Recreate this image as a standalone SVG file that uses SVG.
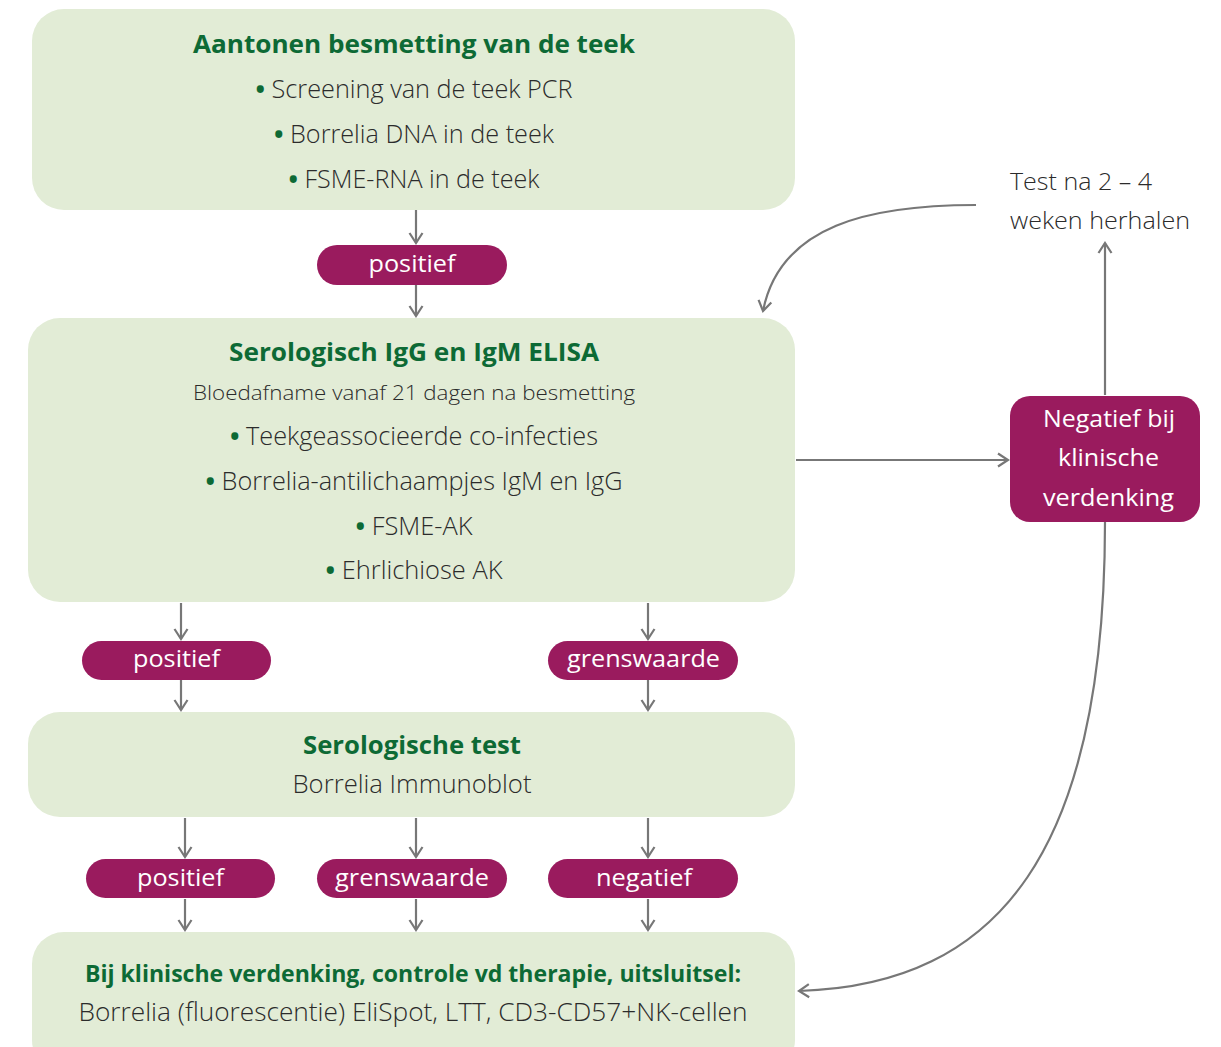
<svg xmlns="http://www.w3.org/2000/svg" width="1221" height="1047" viewBox="0 0 1221 1047">
<style>
.box{fill:#e2ecd6}
.pill{fill:#9a1b5e}
.t{font-family:"Open Sans","Liberation Sans",sans-serif;font-weight:300;fill:#2b2b2b;text-anchor:middle}
.h{font-family:"Open Sans","Liberation Sans",sans-serif;font-weight:700;fill:#0d6a35;text-anchor:middle}
.w{font-family:"Open Sans","Liberation Sans",sans-serif;font-weight:400;fill:#ffffff;text-anchor:middle}
.b{fill:#0d6a35;font-weight:700}
.c{fill:none;stroke:#777;stroke-width:2.2}
</style>
<defs>
<marker id="ah" viewBox="0 0 14 16" refX="12" refY="8" markerWidth="14" markerHeight="16" markerUnits="userSpaceOnUse" orient="auto">
<path d="M2 1.5 L12 8 L2 14.5" fill="none" stroke="#777" stroke-width="2.2"/>
</marker>
</defs>
<g id="connectors">
<path class="c" d="M416 210 V243" marker-end="url(#ah)"/>
<path class="c" d="M416 285 V316" marker-end="url(#ah)"/>
<path class="c" d="M181 603 V639" marker-end="url(#ah)"/>
<path class="c" d="M181 680 V710" marker-end="url(#ah)"/>
<path class="c" d="M648 603 V639" marker-end="url(#ah)"/>
<path class="c" d="M648 680 V710" marker-end="url(#ah)"/>
<path class="c" d="M185 818 V857" marker-end="url(#ah)"/>
<path class="c" d="M416 818 V857" marker-end="url(#ah)"/>
<path class="c" d="M648 818 V857" marker-end="url(#ah)"/>
<path class="c" d="M185 899 V930" marker-end="url(#ah)"/>
<path class="c" d="M416 899 V930" marker-end="url(#ah)"/>
<path class="c" d="M648 899 V930" marker-end="url(#ah)"/>
<path class="c" d="M796 460 H1008" marker-end="url(#ah)"/>
<path class="c" d="M1105 395 V243" marker-end="url(#ah)"/>
<path class="c" d="M976 205 C870 205 780 225 763 311" marker-end="url(#ah)"/>
<path class="c" d="M1105 522 C1105 850 1000 985 799 991" marker-end="url(#ah)"/>
</g>
<g id="node-teek">
<rect class="box" x="32" y="9" width="763" height="201" rx="32"/>
<text class="h" x="414" y="53" font-size="25" textLength="442" lengthAdjust="spacingAndGlyphs">Aantonen besmetting van de teek</text>
<text class="t" x="414" y="98" font-size="25" textLength="317" lengthAdjust="spacingAndGlyphs"><tspan class="b">•</tspan> Screening van de teek PCR</text>
<text class="t" x="414" y="143" font-size="25" textLength="280" lengthAdjust="spacingAndGlyphs"><tspan class="b">•</tspan> Borrelia DNA in de teek</text>
<text class="t" x="414" y="188" font-size="25" textLength="251" lengthAdjust="spacingAndGlyphs"><tspan class="b">•</tspan> FSME-RNA in de teek</text>
</g>
<g id="pill-positief-1">
<rect class="pill" x="317" y="245" width="190" height="40" rx="20"/>
<text class="w" x="412" y="272" font-size="24" textLength="87" lengthAdjust="spacingAndGlyphs">positief</text>
</g>
<g id="node-elisa">
<rect class="box" x="28" y="318" width="767" height="284" rx="32"/>
<text class="h" x="414" y="361" font-size="25" textLength="370" lengthAdjust="spacingAndGlyphs">Serologisch IgG en IgM ELISA</text>
<text class="t" x="414" y="400" font-size="21" textLength="442" lengthAdjust="spacingAndGlyphs">Bloedafname vanaf 21 dagen na besmetting</text>
<text class="t" x="414" y="445" font-size="25" textLength="368" lengthAdjust="spacingAndGlyphs"><tspan class="b">•</tspan> Teekgeassocieerde co-infecties</text>
<text class="t" x="414" y="490" font-size="25" textLength="417" lengthAdjust="spacingAndGlyphs"><tspan class="b">•</tspan> Borrelia-antilichaampjes IgM en IgG</text>
<text class="t" x="414" y="535" font-size="25" textLength="117" lengthAdjust="spacingAndGlyphs"><tspan class="b">•</tspan> FSME-AK</text>
<text class="t" x="414" y="579" font-size="25" textLength="177" lengthAdjust="spacingAndGlyphs"><tspan class="b">•</tspan> Ehrlichiose AK</text>
</g>
<g id="pill-positief-2">
<rect class="pill" x="82" y="641" width="189" height="39" rx="19.5"/>
<text class="w" x="176.5" y="667" font-size="24" textLength="87" lengthAdjust="spacingAndGlyphs">positief</text>
</g>
<g id="pill-grens-1">
<rect class="pill" x="548" y="641" width="190" height="39" rx="19.5"/>
<text class="w" x="643.5" y="667" font-size="24" textLength="153" lengthAdjust="spacingAndGlyphs">grenswaarde</text>
</g>
<g id="node-immunoblot">
<rect class="box" x="28" y="712" width="767" height="105" rx="32"/>
<text class="h" x="412" y="754" font-size="25" textLength="218" lengthAdjust="spacingAndGlyphs">Serologische test</text>
<text class="t" x="412" y="793" font-size="25" textLength="239" lengthAdjust="spacingAndGlyphs">Borrelia Immunoblot</text>
</g>
<g id="pill-positief-3">
<rect class="pill" x="86" y="859" width="189" height="39" rx="19.5"/>
<text class="w" x="180.5" y="886" font-size="24" textLength="87" lengthAdjust="spacingAndGlyphs">positief</text>
</g>
<g id="pill-grens-2">
<rect class="pill" x="317" y="859" width="190" height="39" rx="19.5"/>
<text class="w" x="412" y="886" font-size="24" textLength="154" lengthAdjust="spacingAndGlyphs">grenswaarde</text>
</g>
<g id="pill-negatief">
<rect class="pill" x="548" y="859" width="190" height="39" rx="19.5"/>
<text class="w" x="644" y="886" font-size="24" textLength="96" lengthAdjust="spacingAndGlyphs">negatief</text>
</g>
<g id="node-final">
<rect class="box" x="32" y="932" width="763" height="140" rx="32"/>
<text class="h" x="413" y="982" font-size="24" textLength="656" lengthAdjust="spacingAndGlyphs">Bij klinische verdenking, controle vd therapie, uitsluitsel:</text>
<text class="t" x="413" y="1021" font-size="25" textLength="669" lengthAdjust="spacingAndGlyphs">Borrelia (fluorescentie) EliSpot, LTT, CD3-CD57+NK-cellen</text>
</g>
<g id="node-negatief">
<rect class="pill" x="1010" y="396" width="190" height="126" rx="20"/>
<text class="w" x="1109" y="427" font-size="24" textLength="132" lengthAdjust="spacingAndGlyphs">Negatief bij</text>
<text class="w" x="1108.5" y="466" font-size="24" textLength="101" lengthAdjust="spacingAndGlyphs">klinische</text>
<text class="w" x="1108.5" y="506" font-size="24" textLength="131" lengthAdjust="spacingAndGlyphs">verdenking</text>
</g>
<g id="node-herhalen">
<text class="t" x="1010" y="190" font-size="24" style="text-anchor:start" textLength="142" lengthAdjust="spacingAndGlyphs">Test na 2 – 4</text>
<text class="t" x="1010" y="229" font-size="24" style="text-anchor:start" textLength="180" lengthAdjust="spacingAndGlyphs">weken herhalen</text>
</g>
</svg>
